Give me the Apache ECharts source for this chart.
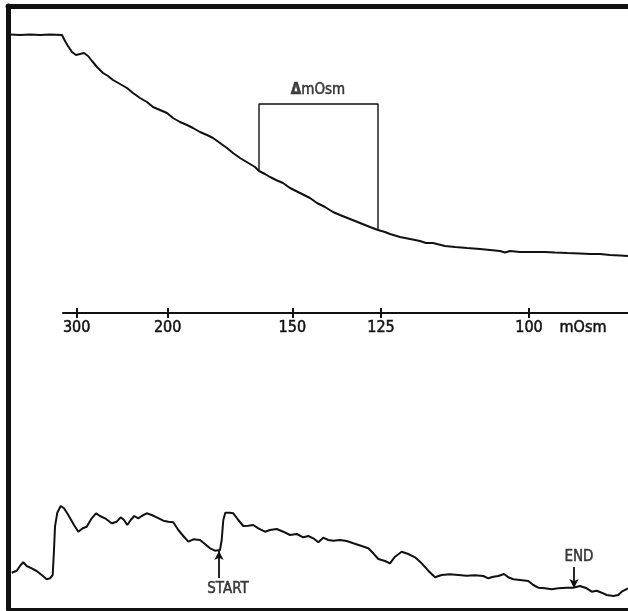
<!DOCTYPE html>
<html>
<head>
<meta charset="utf-8">
<script src="https://cdn.jsdelivr.net/npm/echarts@6.0.0/dist/echarts.min.js"></script>
<style>
html,body{margin:0;padding:0;background:#fff;}
#chart{width:628px;height:611px;}
</style>
</head>
<body>
<div id="chart"></div>
<script>
// Recorder time (arbitrary units) vs. pen deflection (arbitrary units)
const topTrace = [
  [2,574.5],[12,574],[22,574.5],[32,574],[42,574.5],[54,574],[57,568],[60,563],[64,557],[68,554],
  [72,555],[76,556],[80,553],[84,548],[89,542],[95,536],[100,533],[105,529],[112,525],[119,521],
  [125,516],[132,511],[139,507],[145,502],[152,499],[159,496],[165,491],[172,487],[179,484],[185,481],
  [192,477],[199,474],[205,471],[212,466],[219,461],[225,456],[232,451],[237,448],[242,445],[247,442],
  [251,438],[257,435],[262,432],[268,429],[275,426],[282,421],[292,416],[302,411],[309,406],[317,402],
  [325,397],[332,394],[342,390],[352,386],[362,382],[370,379],[377,377],[382,375],[392,372],[402,370],
  [412,368],[418,366],[425,366],[437,363],[447,362],[459,361],[472,360],[482,359],[492,358],[497,356.5],
  [502,358],[512,357],[525,357],[537,357],[547,356.5],[559,356],[572,355.5],[582,355],[592,355],
  [602,354],[612,353.5],[620,353]
];
const bottomTrace = [
  [3.7,36.3],[8.7,38.3],[12.7,44],[15.3,46.7],[18.7,43],[23.7,40.7],[28.7,38],[33.7,34],[38.7,29.7],
  [42,30.7],[44.7,34],[46,59],[47,82.3],[49.3,96.3],[52.7,103],[56,100.7],[60.3,94],[66,84],[70.3,77.3],
  [74.7,80.7],[78.7,82.3],[83.7,90.7],[88,95.7],[92,93],[97,90.7],[103.7,85.7],[108.7,87.3],[112.7,91.7],
  [116,89],[119.3,84],[122.7,89],[126.3,93],[130.3,90.7],[133.7,93],[138.7,95.7],[143.7,94],[148.7,91.7],
  [155.3,88.3],[160.3,87.3],[165.3,86.7],[170.3,79],[175.3,73],[180.3,67.3],[185.3,69.7],[192,69],
  [197,65],[202,60.7],[207,58.3],[212,59],[213.7,69],[215.3,89],[217.3,96.3],[222,96.3],[225.3,95.7],
  [230.3,89],[235.3,83],[240.3,83.3],[245.3,84],[250.3,80.7],[257,77.3],[262,79],[268.7,80],[275.3,77.3],
  [282,74],[288.7,75],[295.3,71.7],[300.3,73],[305.3,70.7],[310.3,66.7],[315.3,71.3],[320.3,69],
  [325.3,68.3],[332,69],[338.7,68],[345.3,65.7],[353.7,63],[360.3,60.7],[365.3,55.7],[370.3,50],[377,48],
  [382,45.7],[387,52.3],[393.7,57.3],[400.3,55],[407,51.7],[413.7,45.7],[420.3,38.3],[427,31.7],
  [433.7,34],[442,34.7],[450.3,34],[458.7,33.3],[467,33.7],[475.3,33],[480.3,30.7],[485.3,32.3],
  [490.3,33],[496,35],[500.3,31.7],[505.3,29.7],[512,29],[520.3,28],[525.3,24],[530.3,21.3],[537,20.7],
  [543.7,19.7],[550.3,20.7],[558.7,21.3],[565.3,21.3],[572,23],[578.7,20.7],[583.7,17.3],[588.7,18.3],
  [593.7,16.3],[598.7,14],[605.3,13],[610.3,14],[613.7,17.3],[620,20.7]
];
const bracket = [[251,438],[251,505],[370,505],[370,379]];
const tickPositions = [68.7, 159.7, 284.3, 373, 521];
const tickLabels = ['300', '200', '150', '125', '100'];
const unitLabelPosition = 575;
const unitLabel = 'mOsm';
const startArrow = [[211,31],[211,58]];
const endArrow = [[566,42],[566,21]];
const textMarks = [
  {name: 'START', value: [220, 20]},
  {name: 'END', value: [571, 52]}
];
const deltaLabel = {name: 'ΔmOsm', value: [310, 519]};

const INK = '#111';
const FONT = '"DejaVu Sans Condensed", "DejaVu Sans", sans-serif';

const labelPositions = tickPositions.concat([unitLabelPosition]);
function axisText(v) {
  for (let i = 0; i < tickPositions.length; i++) {
    if (Math.abs(tickPositions[i] - v) < 0.5) return tickLabels[i];
  }
  if (Math.abs(unitLabelPosition - v) < 0.5) return unitLabel;
  return '';
}
const textInk = {color: INK, fontFamily: FONT, textBorderColor: INK, textBorderWidth: 0.5};

const chart = echarts.init(document.getElementById('chart'), null, {renderer: 'canvas'});
chart.setOption({
  backgroundColor: '#fff',
  animation: false,
  grid: [
    {left: 8, right: 0, top: 6, bottom: 2},
    {left: 63, right: 0, top: 312, height: 1}
  ],
  xAxis: [
    {gridIndex: 0, type: 'value', min: 0, max: 620, position: 'bottom',
     axisLine: {show: true, lineStyle: {color: INK, width: 3}},
     axisTick: {show: false}, axisLabel: {show: false}, splitLine: {show: false}},
    {gridIndex: 0, type: 'value', min: 0, max: 620, position: 'top',
     axisLine: {show: true, lineStyle: {color: INK, width: 5}},
     axisTick: {show: false}, axisLabel: {show: false}, splitLine: {show: false}},
    {gridIndex: 1, type: 'value', min: 55, max: 620, position: 'bottom',
     axisLine: {show: true, lineStyle: {color: INK, width: 2}},
     axisTick: {show: true, inside: false, length: 5, lineStyle: {color: INK, width: 2}, customValues: tickPositions},
     axisLabel: Object.assign({show: true, customValues: labelPositions, formatter: axisText,
                 fontSize: 16, margin: 7}, textInk),
     splitLine: {show: false}},
    {gridIndex: 1, type: 'value', min: 55, max: 620, position: 'bottom', offset: 0,
     axisLine: {show: false},
     axisTick: {show: true, inside: true, length: 5, lineStyle: {color: INK, width: 2}, customValues: tickPositions},
     axisLabel: {show: false}, splitLine: {show: false}}
  ],
  yAxis: [
    {gridIndex: 0, type: 'value', min: 0, max: 603,
     axisLine: {show: true, lineStyle: {color: INK, width: 5}},
     axisTick: {show: false}, axisLabel: {show: false}, splitLine: {show: false}},
    {gridIndex: 1, type: 'value', min: 0, max: 1, show: false}
  ],
  series: [
    {type: 'line', xAxisIndex: 0, yAxisIndex: 0, data: topTrace, showSymbol: false, symbol: 'none',
     lineStyle: {color: INK, width: 2}, silent: true},
    {type: 'line', xAxisIndex: 0, yAxisIndex: 0, data: bracket, showSymbol: false, symbol: 'none',
     lineStyle: {color: INK, width: 1.4}, silent: true},
    {type: 'line', xAxisIndex: 0, yAxisIndex: 0, data: bottomTrace, showSymbol: false, symbol: 'none',
     lineStyle: {color: INK, width: 2}, silent: true,
     markLine: {
       silent: true, symbol: ['none', 'arrow'], symbolSize: [7, 9], animation: false,
       lineStyle: {color: INK, width: 1.8, type: 'solid'}, label: {show: false},
       emphasis: {disabled: true},
       data: [
         [{coord: startArrow[0]}, {coord: startArrow[1]}],
         [{coord: endArrow[0]}, {coord: endArrow[1]}]
       ]
     }},
    {type: 'scatter', xAxisIndex: 0, yAxisIndex: 0, symbolSize: 0, silent: true,
     data: textMarks,
     label: Object.assign({show: true, position: 'inside', formatter: '{b}', fontSize: 15}, textInk)},
    {type: 'scatter', xAxisIndex: 0, yAxisIndex: 0, symbolSize: 0, silent: true,
     data: [deltaLabel],
     label: Object.assign({show: true, position: 'inside', fontSize: 15,
             formatter: function (p) { return '{d|' + p.name.charAt(0) + '}' + p.name.slice(1); },
             rich: {d: {fontFamily: FONT, fontSize: 15, fontWeight: 'bold', color: INK,
                        textBorderColor: INK, textBorderWidth: 0.5}}}, textInk)}
  ]
});
</script>
</body>
</html>
